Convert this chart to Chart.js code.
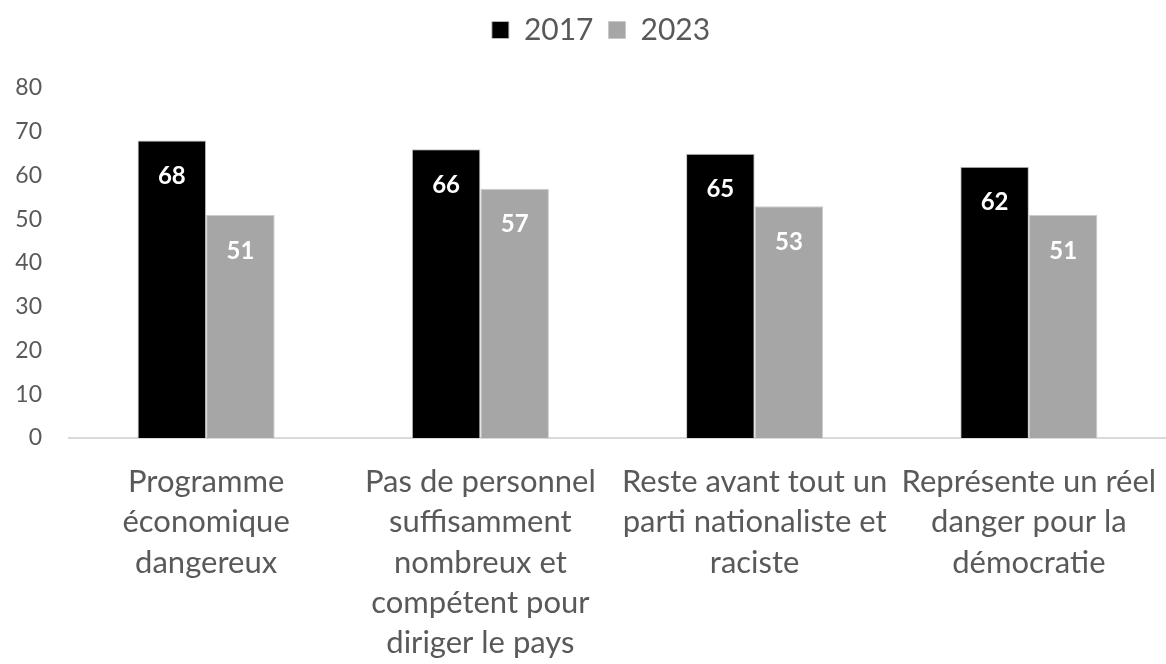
<!DOCTYPE html>
<html>
<head>
<meta charset="utf-8">
<script src="https://cdn.jsdelivr.net/npm/chart.js@4"></script>
<style>
    html, body { margin: 0; padding: 0; background: #fff; }
    #wrap { width: 1166px; height: 664px; }
</style>
</head>
<body>
<div id="wrap"><canvas id="opinionChart"></canvas></div>
<script>
// Categories (multi-line labels) and series values
const categories = [
    ['Programme', 'économique', 'dangereux'],
    ['Pas de personnel', 'suffisamment', 'nombreux et', 'compétent pour', 'diriger le pays'],
    ['Reste avant tout un', 'parti nationaliste et', 'raciste'],
    ['Représente un réel', 'danger pour la', 'démocratie']
];
const seriesNames = ['2017', '2023'];
const values2017 = [68, 66, 65, 62];
const values2023 = [51, 57, 53, 51];
const yTicks = [0, 10, 20, 30, 40, 50, 60, 70, 80];

const textColor = '#595959';
const fontFamily = 'Lato, "Open Sans", sans-serif';

// White value labels drawn inside the top of each bar
const barValueLabels = {
    id: 'barValueLabels',
    afterDatasetsDraw(chart) {
        const ctx = chart.ctx;
        ctx.save();
        ctx.fillStyle = '#ffffff';
        ctx.font = 'bold 24px ' + fontFamily;
        ctx.textAlign = 'center';
        ctx.textBaseline = 'middle';
        chart.data.datasets.forEach((ds, i) => {
            chart.getDatasetMeta(i).data.forEach((bar, j) => {
                ctx.fillText(ds.data[j], bar.x, bar.y + 36);
            });
        });
        ctx.restore();
    }
};

// Give the legend a fixed block height so the plot starts lower,
// and nudge the legend row a little to the right
const legendBlock = {
    id: 'legendBlock',
    beforeLayout(chart) {
        const legend = chart.legend;
        if (!legend || legend._blockFit) return;
        const fit = legend.fit;
        legend.fit = function() {
            fit.call(this);
            this.height = 88;
            if (this.lineWidths && this.lineWidths.length) {
                this.lineWidths[0] -= 36;
            }
        };
        legend._blockFit = true;
    }
};

const ctx = document.getElementById('opinionChart').getContext('2d');
const opinionChart = new Chart(ctx, {
    type: 'bar',
    data: {
        labels: categories,
        datasets: [{
            label: seriesNames[0],
            data: values2017,
            backgroundColor: '#000000',
            borderColor: 'rgba(190, 190, 190, 0.9)',
            borderWidth: 1
        }, {
            label: seriesNames[1],
            data: values2023,
            backgroundColor: '#a6a6a6',
            borderColor: 'rgba(200, 200, 200, 0.9)',
            borderWidth: 1
        }]
    },
    options: {
        responsive: true,
        maintainAspectRatio: false,
        animation: false,
        datasets: {
            bar: {
                categoryPercentage: 0.5,
                barPercentage: 1.0
            }
        },
        layout: {
            padding: 0
        },
        scales: {
            x: {
                grid: { display: false, drawTicks: false },
                border: { display: true, color: '#d9d9d9', width: 2 },
                ticks: {
                    color: textColor,
                    font: { family: fontFamily, size: 31, lineHeight: 1.3 },
                    padding: 24,
                    maxRotation: 0,
                    autoSkip: false
                },
                afterFit(scale) {
                    // labels may overhang the edges; keep the plot full width
                    scale.height = 226;
                    scale.paddingLeft = 0;
                    scale.paddingRight = 0;
                }
            },
            y: {
                min: 0,
                max: 80,
                afterBuildTicks(scale) {
                    scale.ticks = yTicks.map(v => ({ value: v }));
                },
                grid: { display: false, drawTicks: false },
                border: { display: false },
                ticks: {
                    color: textColor,
                    font: { family: fontFamily, size: 23 },
                    padding: 27
                },
                afterFit(scale) {
                    scale.width = 69;
                }
            }
        },
        plugins: {
            legend: {
                position: 'top',
                labels: {
                    color: textColor,
                    font: { family: fontFamily, size: 30 },
                    boxWidth: 17,
                    boxHeight: 17,
                    padding: 15
                }
            },
            tooltip: { enabled: false }
        }
    },
    plugins: [barValueLabels, legendBlock]
});
</script>
</body>
</html>
